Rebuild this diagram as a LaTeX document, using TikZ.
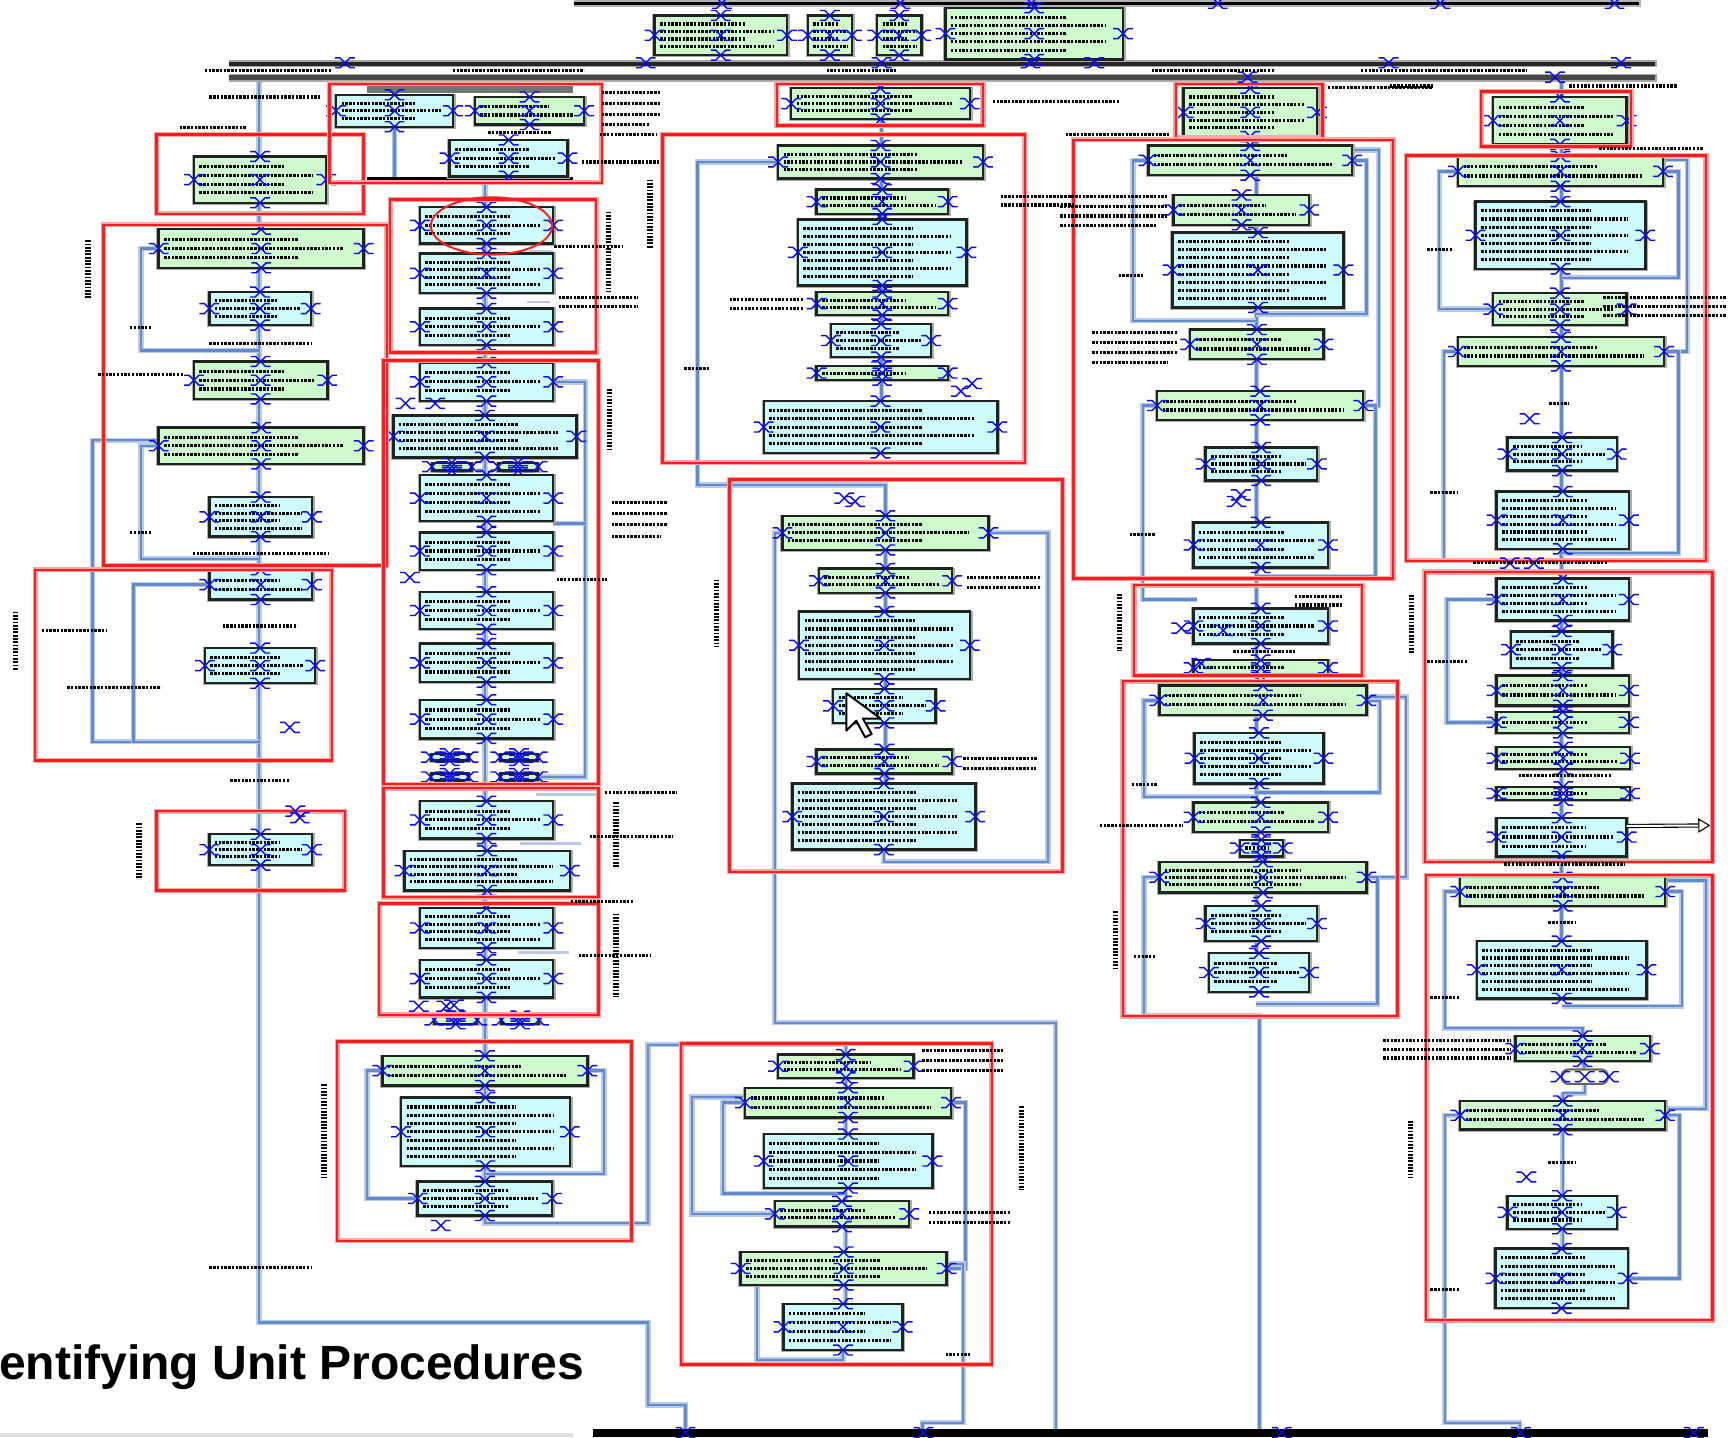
\documentclass[tikz,border=0pt]{standalone}
\usepackage{fontspec}
\setmainfont{Liberation Sans}
\usetikzlibrary{arrows.meta,calc}
\pgfdeclarelayer{back}
\pgfdeclarelayer{bg}
\pgfsetlayers{back,bg,main}
\definecolor{gfill}{RGB}{206,250,206}
\definecolor{cfill}{RGB}{206,252,252}
\definecolor{lnk}{RGB}{98,138,205}
\definecolor{lnkh}{RGB}{185,202,232}
\definecolor{rfr}{RGB}{255,28,28}
\definecolor{rfrh}{RGB}{255,165,165}
\definecolor{hblue}{RGB}{10,10,250}
\tikzset{
  boxst/.style={draw={rgb,255:red,30;green,35;blue,30}, line width=2.2pt, rectangle, inner sep=0pt, outer sep=0pt},
  conn/.style={draw=lnk, line width=2.1pt, preaction={draw=lnkh, line width=4.8pt}},
  stub/.style={draw=lnkh, line width=2.6pt},
  rframe/.style={draw=rfr, line width=2.2pt, preaction={draw=rfrh, line width=4.6pt}},
  hnd/.style={draw=hblue, line width=1.3pt},
  scrib/.style={draw=black, line width=2.8pt, dash pattern=on 2.2pt off 1.2pt},
  vscrib/.style={draw=black, line width=5pt, dash pattern=on 1.6pt off 1.4pt},
}
\newcommand{\hdl}[1]{\draw[hnd] (#1) +(-9,-4.5) -- +(-4.5,-4.5) -- +(4.5,4.5) -- +(9,4.5) +(-9,4.5) -- +(-4.5,4.5) -- +(4.5,-4.5) -- +(9,-4.5);}
\newcommand{\bx}[6]{%
  \fill[black!32] ({#2-2},{#3-1}) rectangle ({#4+2.5},{#5+2});
  \node[boxst, fill=#6, minimum width={#4-#2}, minimum height={#5-#3}] (#1) at ({(#2+#4)/2},{(#3+#5)/2}) {};
  \pgfmathtruncatemacro\bxnl{(#5-#3-4)/8}%
  \ifnum\bxnl>0
    \foreach \k in {1,...,\bxnl}{%
      \pgfmathsetmacro\bxyy{#3+1+\k*(#5-#3-2)/(\bxnl+1)}%
      \pgfmathsetmacro\bxxe{#2+(#4-#2)*(0.9-0.22*mod(\k,2))}%
      \draw[scrib] ({#2+5},\bxyy) -- (\bxxe,\bxyy);
    }%
  \fi
  \hdl{#1.north}\hdl{#1.south}\hdl{#1.east}\hdl{#1.west}\hdl{#1.center}%
}
\newcommand{\redf}[4]{\draw[rframe] (#1,#2) rectangle (#3,#4);}
\begin{document}
\begin{tikzpicture}[x=1pt,y=-1pt]
\useasboundingbox (0,0) rectangle (1568,1304);
\begin{pgfonlayer}{back}
\fill[white] (0,0) rectangle (1568,1304);
\end{pgfonlayer}
% bars
\fill[black!30] (521,0) rectangle (1489,6);
\fill[black] (521,1.5) rectangle (1487,4.5);
\fill[black!35] (208,54) rectangle (1504,61);
\fill[black!85] (208,56) rectangle (1502,59.5);
\fill[black!35] (208,67) rectangle (1504,74);
\fill[black!72] (208,68.5) rectangle (1502,73);
\fill[black] (538,1297) rectangle (1550,1304);
\fill[black!55] (333,77) rectangle (520,84);
\fill[black] (333,161) rectangle (520,167);
\fill[black!12] (0,1300) rectangle (520,1304);
% top boxes
\bx{t1}{594}{14}{714}{50}{gfill}
\bx{t2}{733}{14}{773}{50}{gfill}
\bx{t3}{796}{14}{836}{50}{gfill}
\bx{t4}{858}{7}{1019}{54}{gfill}
% column 1
\bx{a1}{176}{142}{296}{184}{gfill}
\bx{a2}{144}{208}{330}{243}{gfill}
\bx{a3}{190}{265}{282}{295}{cfill}
\bx{a4}{176}{328}{297}{362}{gfill}
\bx{a5}{144}{388}{330}{421}{gfill}
\bx{a6}{190}{451}{283}{487}{cfill}
\bx{a7}{190}{517}{283}{544}{cfill}
\bx{a8}{186}{588}{286}{620}{cfill}
\bx{a9}{190}{757}{283}{785}{cfill}
% column 2
\bx{b1}{305}{86}{411}{115}{cfill}
\bx{b2}{431}{88}{530}{113}{gfill}
\bx{b3}{408}{127}{515}{160}{cfill}
\bx{b4}{381}{188}{502}{221}{cfill}
\bx{b5}{381}{230}{502}{266}{cfill}
\bx{b6}{381}{280}{502}{313}{cfill}
\bx{b7}{381}{329}{502}{364}{cfill}
\bx{b8}{357}{377}{523}{415}{cfill}
\bx{b9a}{392}{420}{428}{427}{gfill}
\bx{b9b}{452}{420}{488}{427}{gfill}
\bx{b10}{381}{431}{502}{473}{cfill}
\bx{b11}{381}{483}{502}{517}{cfill}
\bx{b12}{381}{537}{502}{571}{cfill}
\bx{b13}{381}{584}{502}{619}{cfill}
\bx{b14}{381}{635}{502}{670}{cfill}
\bx{b15a}{391}{684}{425}{690}{gfill}
\bx{b15b}{454}{684}{488}{690}{gfill}
\bx{b16a}{391}{702}{425}{708}{gfill}
\bx{b16b}{454}{702}{488}{708}{gfill}
\bx{b17}{381}{727}{502}{761}{cfill}
\bx{b18}{367}{772}{517}{808}{cfill}
\bx{b19}{381}{824}{502}{860}{cfill}
\bx{b20}{381}{871}{502}{905}{cfill}
\bx{b21a}{394}{922}{433}{929}{gfill}
\bx{b21b}{455}{922}{489}{929}{gfill}
\bx{b22}{347}{958}{533}{985}{gfill}
\bx{b23}{364}{996}{517}{1058}{cfill}
\bx{b24}{379}{1072}{501}{1103}{cfill}
% column 3
\bx{c1}{718}{80}{880}{108}{gfill}
\bx{c2}{706}{132}{892}{162}{gfill}
\bx{c3}{741}{172}{860}{194}{gfill}
\bx{c4}{724}{199}{877}{259}{cfill}
\bx{c5}{741}{265}{860}{286}{gfill}
\bx{c6}{754}{294}{845}{324}{cfill}
\bx{c7}{741}{332}{860}{345}{gfill}
\bx{c8}{693}{364}{905}{411}{cfill}
\bx{c9}{710}{468}{897}{499}{gfill}
\bx{c10}{743}{516}{864}{538}{gfill}
\bx{c11}{725}{555}{880}{616}{cfill}
\bx{c12}{756}{625}{849}{656}{cfill}
\bx{c13}{741}{680}{864}{702}{gfill}
\bx{c14}{719}{711}{885}{771}{cfill}
\bx{c15}{706}{957}{829}{978}{gfill}
\bx{c16}{676}{987}{863}{1014}{gfill}
\bx{c17}{693}{1029}{846}{1078}{cfill}
\bx{c18}{703}{1090}{825}{1113}{gfill}
\bx{c19}{672}{1136}{859}{1166}{gfill}
\bx{c20}{711}{1183}{819}{1225}{cfill}
% column 4
\bx{d1}{1074}{80}{1195}{124}{gfill}
\bx{d2}{1042}{132}{1227}{159}{gfill}
\bx{d3}{1065}{177}{1188}{204}{gfill}
\bx{d4}{1064}{211}{1219}{279}{cfill}
\bx{d5}{1080}{299}{1201}{326}{gfill}
\bx{d6}{1050}{355}{1237}{381}{gfill}
\bx{d7}{1094}{406}{1195}{436}{cfill}
\bx{d8}{1083}{474}{1205}{515}{cfill}
\bx{d9}{1083}{552}{1205}{584}{cfill}
\bx{d10}{1083}{599}{1205}{613}{gfill}
\bx{d11}{1052}{622}{1240}{649}{gfill}
\bx{d12}{1084}{665}{1201}{711}{cfill}
\bx{d13}{1083}{728}{1205}{755}{gfill}
\bx{d14}{1125}{762}{1164}{777}{gfill}
\bx{d15}{1052}{782}{1240}{810}{gfill}
\bx{d16}{1094}{822}{1195}{854}{cfill}
\bx{d17}{1097}{865}{1188}{900}{cfill}
% column 5
\bx{e1}{1355}{88}{1476}{131}{gfill}
\bx{e2}{1323}{142}{1509}{169}{gfill}
\bx{e3}{1339}{183}{1493}{244}{cfill}
\bx{e4}{1355}{266}{1476}{295}{gfill}
\bx{e5}{1323}{306}{1510}{332}{gfill}
\bx{e6}{1368}{397}{1467}{427}{cfill}
\bx{e7}{1358}{446}{1478}{498}{cfill}
\bx{e8}{1358}{525}{1478}{563}{cfill}
\bx{e9}{1371}{573}{1463}{606}{cfill}
\bx{e10}{1358}{613}{1478}{640}{gfill}
\bx{e11}{1358}{646}{1478}{665}{gfill}
\bx{e12}{1358}{678}{1479}{698}{gfill}
\bx{e13}{1358}{714}{1479}{726}{gfill}
\bx{e14}{1358}{742}{1476}{777}{cfill}
\bx{e15}{1325}{796}{1511}{822}{gfill}
\bx{e16}{1340}{854}{1494}{906}{cfill}
\bx{e17}{1375}{940}{1497}{963}{gfill}
\node[draw=black!60, line width=2pt, rounded corners=6pt, minimum width=42pt, minimum height=13pt, inner sep=0pt, fill=white] (e18) at (1438,977) {};
\hdl{e18.west}\hdl{e18.east}\hdl{e18.center}
\bx{e19}{1325}{999}{1511}{1025}{gfill}
\bx{e20}{1368}{1085}{1467}{1115}{cfill}
\bx{e21}{1357}{1133}{1477}{1187}{cfill}
% title
\node[font=\fontsize{43.6}{50}\selectfont\bfseries, anchor=base west, inner sep=0pt] (title) at (-1,1252) {entifying Unit Procedures};
% cursor
\draw[fill=white, draw=black, line width=1.8pt, line join=round] (768,629) -- ++(0,34) -- ++(9,-9) -- ++(8,15) -- ++(6,-3) -- ++(-8,-14) -- ++(16,0) -- cycle;
% coordinates
\coordinate (k1top) at (235,72);
\coordinate (k1end) at (622,1300);
\coordinate (j11) at (235,318);
\coordinate (j12) at (235,507);
\coordinate (j13) at (235,673);
\coordinate (k2bar) at (440,164);
\coordinate (k2top) at (426,72);
\coordinate (k2g) at (426,80);
\coordinate (j21) at (588,948);
\coordinate (j22) at (440,1065);
\coordinate (k3top) at (800,72);
\coordinate (j31) at (633,440);
\coordinate (j32) at (703,928);
\coordinate (k3b) at (958,1300);
\coordinate (j33) at (951,782);
\coordinate (j34) at (767,1083);
\coordinate (j35) at (874,1291);
\coordinate (k3c) at (837,1300);
\coordinate (j36) at (765,1234);
\coordinate (k4top) at (1140,72);
\coordinate (j41) at (1140,291);
\coordinate (j42) at (1140,285);
\coordinate (j43) at (1251,368);
\coordinate (j44) at (1086,544);
\coordinate (j45) at (1140,523);
\coordinate (j46) at (1140,723);
\coordinate (j47) at (1140,719);
\coordinate (j48) at (1038,922);
\coordinate (k4b) at (1143,1300);
\coordinate (j49) at (1140,911);
\coordinate (k5top) at (1417,72);
\coordinate (j51) at (1417,252);
\coordinate (j52) at (1531,319);
\coordinate (j53) at (1310,507);
\coordinate (j54) at (1417,502);
\coordinate (j55) at (1436,933);
\coordinate (j56) at (1417,913);
\coordinate (j57) at (1548,1006);
\coordinate (j58) at (1417,992);
\coordinate (j59) at (1311,1291);
\coordinate (k5b) at (1379,1300);
\coordinate (k5arr) at (1552,749);
\begin{pgfonlayer}{bg}
% column 1
\draw[conn] (k1top) -- (235,1200) -| (588,1275) -| (k1end);
\draw[conn] (a2.west) -- ++(-16,0) |- (j11);
\draw[conn] (a5.west) -- ++(-16,0) |- (j12);
\draw[conn] ([yshift=5pt]a5.west) -- ++(-60,0) |- (j13);
\draw[conn] (a7.west) -- ++(-69,0) |- (j13);
% column 2
\draw[conn] (k2top) -- (k2g);
\draw[conn] (b1.south) -- (b1.south |- k2bar);
\draw[conn] (k2bar) -- (b24.south);
\draw[conn] (b24.south) -- ++(0,7) -| (j21) -| (c15.north);
\draw[conn] (b7.east) -- ++(29,0) |- (b16b.east);
\draw[conn] (531,475) -- (b10.east |- 0,475);
\draw[conn] (b22.east) -- ++(15,0) |- (j22);
\draw[conn] (b24.west) -- ++(-46,0) |- (b22.west);
\draw[stub] (480,228) -- (502,228);
\draw[stub] (478,274) -- (499,274);
\draw[stub] (486,721) -- (543,721);
\draw[stub] (472,765) -- (527,765);
\draw[stub] (464,813) -- (506,813);
\draw[stub] (470,864) -- (516,864);
% column 3
\draw[conn] (k3top) -- (k3top |- c8.north);
\draw[conn] (c2.west) -| (j31) -| (c9.north);
\draw[conn] (c9.north) -- (c9.north |- c14.south);
\draw[conn] (c9.west) -| (j32) -| (k3b);
\draw[conn] (c9.east) -| (j33) -| (c14.south);
\draw[conn] (c15.north) -- (c15.north |- c20.north);
\draw[conn] (c16.west) -- ++(-20,0) |- (j34);
\draw[conn] (c18.west) -- ++(-75,0) |- ([yshift=5pt]c16.west);
\draw[conn] (c16.east) -- ++(13,0) |- (c19.east);
\draw[conn] ([yshift=4pt]c19.east) -| (j35) -| (k3c);
\draw[conn] ([xshift=15pt]c19.south west) |- (j36) -- (c20.south);
% column 4
\draw[conn] (k4top) -- (k4top |- d17.south);
\draw[conn] (d2.west) -- ++(-14,0) |- (j41);
\draw[conn] (d2.east) -- ++(13,0) |- (j42);
\draw[conn] ([yshift=-4pt]d2.north east) -| (j43) -- (d6.east);
\draw[conn] (d6.west) -- ++(-13,0) |- (j44);
\draw[conn] (d6.east) -- ++(11,0) |- (j45);
\draw[conn] (d11.west) -- ++(-14,0) |- (j46);
\draw[conn] (d11.east) -- ++(12,0) |- (j47);
\draw[conn] ([yshift=3pt]d11.east) -- ++(36,0) |- (d15.east);
\draw[conn] (d15.west) -| (j48) -| (k4b);
\draw[conn] (d15.east) -- ++(10,0) |- (j49);
% column 5
\draw[conn] (k5top) -- (k5top |- e16.south);
\draw[conn] (e2.west) -- ++(-17,0) |- (e4.west);
\draw[conn] (e2.east) -- ++(14,0) |- (j51);
\draw[conn] ([yshift=-3pt]e2.north east) -| (j52) -- (e5.east);
\draw[conn] (e5.west) -| (j53);
\draw[conn] (e5.east) -- ++(13,0) |- (j54);
\draw[conn] (e8.west) -- ++(-45,0) |- (e11.west);
\draw[conn] (e15.west) -- ++(-14,0) |- (j55) -- (e17.north);
\draw[conn] (e15.east) -- ++(15,0) |- (j56);
\draw[conn] ([yshift=-3pt]e15.north east) -| (j57) -- ([yshift=6pt]e19.east);
\draw[conn] (e17.south) -- (e18.north);
\draw[conn] (e18.south) |- (j58) -| (e19.north);
\draw[conn] (e19.north) -- (e19.north |- e21.north);
\draw[conn] (e19.west) -| (j59) -| (k5b);
\draw[conn] (e19.east) -- ++(13,0) |- (e21.east);
\end{pgfonlayer}
% arrow
\draw[double=white, double distance=1.8pt, line width=1pt, -{Triangle[open, length=11pt, width=13pt]}] ([yshift=10pt]e14.east) -- (k5arr);
% red frames
\redf{142}{122}{330}{194}
\redf{94}{204}{351}{513}
\redf{32}{517}{301}{690}
\redf{142}{736}{313}{808}
\redf{299}{76}{546}{166}
\redf{354}{181}{541}{320}
\redf{348}{327}{543}{712}
\redf{348}{715}{543}{814}
\redf{344}{820}{543}{921}
\redf{306}{945}{573}{1126}
\redf{705}{76}{892}{114}
\redf{601}{122}{930}{420}
\redf{662}{435}{964}{791}
\redf{618}{947}{900}{1238}
\redf{1067}{76}{1200}{125}
\redf{974}{127}{1264}{525}
\redf{1029}{531}{1236}{613}
\redf{1019}{618}{1268}{922}
\redf{1344}{83}{1480}{133}
\redf{1276}{141}{1548}{509}
\redf{1293}{519}{1554}{782}
\redf{1294}{794}{1554}{1198}
\draw[rfr, line width=1.8pt] (446,205) ellipse [x radius=55pt, y radius=26pt];
% handles on bars and loose handles
\foreach \x/\y in {655/3, 817/3, 936/3, 1105/3, 1307/3, 1465/3, 313/57, 586/57, 800/57, 935/57, 993/57, 1260/57, 1471/57, 1132/70, 1411/70, 622/1300, 838/1300, 1163/1300, 1380/1300, 1537/1300, 263/660, 272/742, 872/355, 882/348, 776/455, 766/452, 1388/380, 1385/1068, 1122/455, 1126/449, 380/913, 405/913, 400/1112, 368/366, 395/366, 1110/572, 1370/511, 1392/511, 268/736, 1072/570, 1090/602, 372/524, 412/912}
  {\hdl{\x,\y}}
% scribble labels
\foreach \a/\b/\c in {186/301/64, 411/530/64, 750/813/64, 1045/1157/64, 1235/1386/64, 190/291/88, 163/223/116, 1205/1300/79, 901/1016/92, 967/1062/122, 1424/1522/78, 1451/1545/135, 1261/1300/78, 546/599/84, 546/599/94, 546/599/104, 546/590/113, 544/596/122, 528/599/147, 443/500/120, 118/138/297, 190/283/312, 89/167/340, 118/138/483, 175/298/502, 38/97/572, 202/270/568, 61/146/624, 209/263/708, 190/282/1150, 507/579/270, 507/579/278, 503/565/224, 555/606/456, 555/606/466, 555/606/476, 555/600/487, 505/551/526, 549/614/719, 535/610/759, 518/575/818, 525/590/867, 662/729/272, 662/729/280, 621/644/334, 908/975/178, 908/975/186, 877/945/524, 877/945/533, 874/942/688, 874/940/697, 837/910/953, 837/910/962, 837/910/971, 843/917/1100, 843/917/1109, 858/880/1229, 962/1059/178, 962/1059/187, 962/1059/196, 962/1050/205, 1015/1037/250, 991/1069/302, 991/1069/311, 991/1069/320, 991/1060/329, 1025/1048/485, 1175/1219/541, 1175/1219/549, 1119/1175/591, 1027/1050/712, 998/1073/749, 1029/1049/868, 1295/1318/226, 1406/1424/366, 1298/1323/447, 1337/1459/510, 1378/1463/704, 1455/1567/270, 1455/1567/278, 1455/1567/286, 1295/1332/600, 1365/1474/784, 1405/1430/837, 1298/1324/905, 1255/1371/944, 1255/1371/952, 1255/1371/960, 1405/1430/1055, 1298/1324/1170}
  {\draw[scrib] (\a,\c) -- (\b,\c);}
\foreach \a/\b/\c in {80/218/270, 14/555/608, 126/747/798, 294/984/1069, 552/192/265, 590/163/225, 553/353/410, 559/728/788, 559/829/905, 650/526/587, 927/1004/1080, 1016/539/591, 1012/827/880, 1281/540/593, 1280/1017/1069}
  {\draw[vscrib] (\a,\b) -- (\a,\c);}
\end{tikzpicture}
\end{document}
